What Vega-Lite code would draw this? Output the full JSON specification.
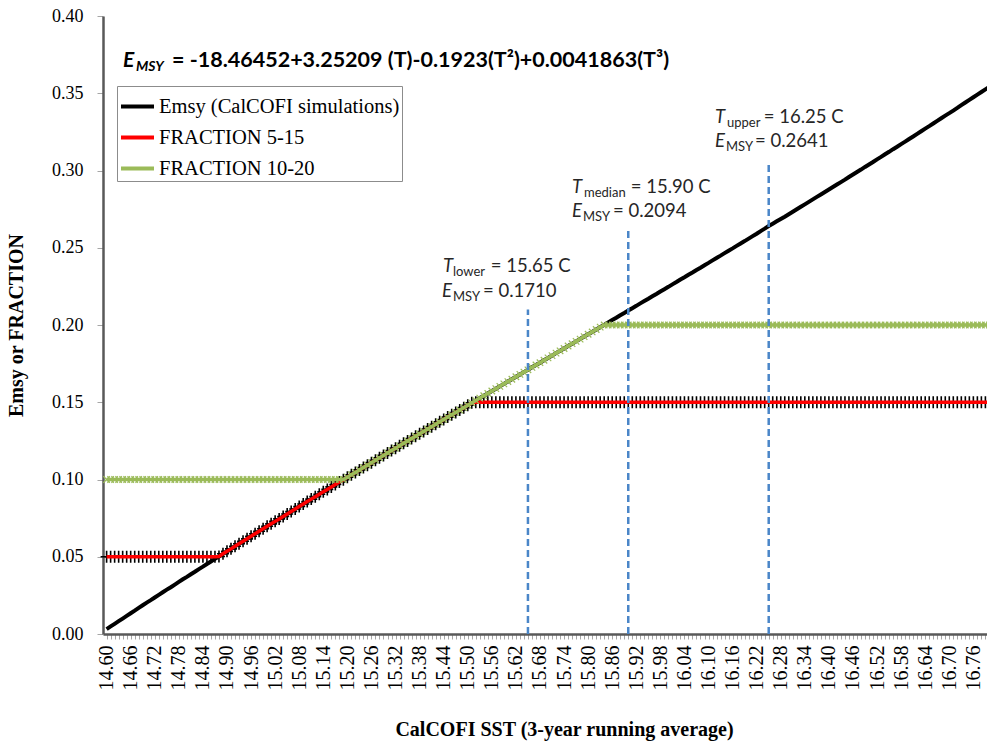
{
  "$schema": "https://vega.github.io/schema/vega-lite/v6.json",
  "width": 884,
  "height": 618,
  "autosize": {"type": "none"},
  "padding": {"left": 103, "top": 16, "right": 0, "bottom": 110},
  "background": "white",
  "config": {"view": {"stroke": null}, "axis": {"grid": false}},
  "datasets": {
    "series": [
      {"sst":14.60,"emsy":0.0032,"fraction_5_15":0.05,"fraction_10_20":0.1},
      {"sst":14.61,"emsy":0.0049,"fraction_5_15":0.05,"fraction_10_20":0.1},
      {"sst":14.62,"emsy":0.0066,"fraction_5_15":0.05,"fraction_10_20":0.1},
      {"sst":14.63,"emsy":0.0083,"fraction_5_15":0.05,"fraction_10_20":0.1},
      {"sst":14.64,"emsy":0.0100,"fraction_5_15":0.05,"fraction_10_20":0.1},
      {"sst":14.65,"emsy":0.0117,"fraction_5_15":0.05,"fraction_10_20":0.1},
      {"sst":14.66,"emsy":0.0134,"fraction_5_15":0.05,"fraction_10_20":0.1},
      {"sst":14.67,"emsy":0.0151,"fraction_5_15":0.05,"fraction_10_20":0.1},
      {"sst":14.68,"emsy":0.0169,"fraction_5_15":0.05,"fraction_10_20":0.1},
      {"sst":14.69,"emsy":0.0186,"fraction_5_15":0.05,"fraction_10_20":0.1},
      {"sst":14.70,"emsy":0.0203,"fraction_5_15":0.05,"fraction_10_20":0.1},
      {"sst":14.71,"emsy":0.0219,"fraction_5_15":0.05,"fraction_10_20":0.1},
      {"sst":14.72,"emsy":0.0236,"fraction_5_15":0.05,"fraction_10_20":0.1},
      {"sst":14.73,"emsy":0.0253,"fraction_5_15":0.05,"fraction_10_20":0.1},
      {"sst":14.74,"emsy":0.0270,"fraction_5_15":0.05,"fraction_10_20":0.1},
      {"sst":14.75,"emsy":0.0287,"fraction_5_15":0.05,"fraction_10_20":0.1},
      {"sst":14.76,"emsy":0.0303,"fraction_5_15":0.05,"fraction_10_20":0.1},
      {"sst":14.77,"emsy":0.0320,"fraction_5_15":0.05,"fraction_10_20":0.1},
      {"sst":14.78,"emsy":0.0337,"fraction_5_15":0.05,"fraction_10_20":0.1},
      {"sst":14.79,"emsy":0.0354,"fraction_5_15":0.05,"fraction_10_20":0.1},
      {"sst":14.80,"emsy":0.0370,"fraction_5_15":0.05,"fraction_10_20":0.1},
      {"sst":14.81,"emsy":0.0387,"fraction_5_15":0.05,"fraction_10_20":0.1},
      {"sst":14.82,"emsy":0.0403,"fraction_5_15":0.05,"fraction_10_20":0.1},
      {"sst":14.83,"emsy":0.0420,"fraction_5_15":0.05,"fraction_10_20":0.1},
      {"sst":14.84,"emsy":0.0436,"fraction_5_15":0.05,"fraction_10_20":0.1},
      {"sst":14.85,"emsy":0.0453,"fraction_5_15":0.05,"fraction_10_20":0.1},
      {"sst":14.86,"emsy":0.0469,"fraction_5_15":0.05,"fraction_10_20":0.1},
      {"sst":14.87,"emsy":0.0486,"fraction_5_15":0.05,"fraction_10_20":0.1},
      {"sst":14.88,"emsy":0.0502,"fraction_5_15":0.0502,"fraction_10_20":0.1},
      {"sst":14.89,"emsy":0.0519,"fraction_5_15":0.0519,"fraction_10_20":0.1},
      {"sst":14.90,"emsy":0.0535,"fraction_5_15":0.0535,"fraction_10_20":0.1},
      {"sst":14.91,"emsy":0.0551,"fraction_5_15":0.0551,"fraction_10_20":0.1},
      {"sst":14.92,"emsy":0.0568,"fraction_5_15":0.0568,"fraction_10_20":0.1},
      {"sst":14.93,"emsy":0.0584,"fraction_5_15":0.0584,"fraction_10_20":0.1},
      {"sst":14.94,"emsy":0.0600,"fraction_5_15":0.0600,"fraction_10_20":0.1},
      {"sst":14.95,"emsy":0.0616,"fraction_5_15":0.0616,"fraction_10_20":0.1},
      {"sst":14.96,"emsy":0.0633,"fraction_5_15":0.0633,"fraction_10_20":0.1},
      {"sst":14.97,"emsy":0.0649,"fraction_5_15":0.0649,"fraction_10_20":0.1},
      {"sst":14.98,"emsy":0.0665,"fraction_5_15":0.0665,"fraction_10_20":0.1},
      {"sst":14.99,"emsy":0.0681,"fraction_5_15":0.0681,"fraction_10_20":0.1},
      {"sst":15.00,"emsy":0.0697,"fraction_5_15":0.0697,"fraction_10_20":0.1},
      {"sst":15.01,"emsy":0.0713,"fraction_5_15":0.0713,"fraction_10_20":0.1},
      {"sst":15.02,"emsy":0.0729,"fraction_5_15":0.0729,"fraction_10_20":0.1},
      {"sst":15.03,"emsy":0.0745,"fraction_5_15":0.0745,"fraction_10_20":0.1},
      {"sst":15.04,"emsy":0.0761,"fraction_5_15":0.0761,"fraction_10_20":0.1},
      {"sst":15.05,"emsy":0.0777,"fraction_5_15":0.0777,"fraction_10_20":0.1},
      {"sst":15.06,"emsy":0.0793,"fraction_5_15":0.0793,"fraction_10_20":0.1},
      {"sst":15.07,"emsy":0.0809,"fraction_5_15":0.0809,"fraction_10_20":0.1},
      {"sst":15.08,"emsy":0.0825,"fraction_5_15":0.0825,"fraction_10_20":0.1},
      {"sst":15.09,"emsy":0.0841,"fraction_5_15":0.0841,"fraction_10_20":0.1},
      {"sst":15.10,"emsy":0.0857,"fraction_5_15":0.0857,"fraction_10_20":0.1},
      {"sst":15.11,"emsy":0.0873,"fraction_5_15":0.0873,"fraction_10_20":0.1},
      {"sst":15.12,"emsy":0.0889,"fraction_5_15":0.0889,"fraction_10_20":0.1},
      {"sst":15.13,"emsy":0.0905,"fraction_5_15":0.0905,"fraction_10_20":0.1},
      {"sst":15.14,"emsy":0.0920,"fraction_5_15":0.0920,"fraction_10_20":0.1},
      {"sst":15.15,"emsy":0.0936,"fraction_5_15":0.0936,"fraction_10_20":0.1},
      {"sst":15.16,"emsy":0.0952,"fraction_5_15":0.0952,"fraction_10_20":0.1},
      {"sst":15.17,"emsy":0.0968,"fraction_5_15":0.0968,"fraction_10_20":0.1},
      {"sst":15.18,"emsy":0.0984,"fraction_5_15":0.0984,"fraction_10_20":0.1},
      {"sst":15.19,"emsy":0.0999,"fraction_5_15":0.0999,"fraction_10_20":0.1},
      {"sst":15.20,"emsy":0.1015,"fraction_5_15":0.1015,"fraction_10_20":0.1015},
      {"sst":15.21,"emsy":0.1031,"fraction_5_15":0.1031,"fraction_10_20":0.1031},
      {"sst":15.22,"emsy":0.1046,"fraction_5_15":0.1046,"fraction_10_20":0.1046},
      {"sst":15.23,"emsy":0.1062,"fraction_5_15":0.1062,"fraction_10_20":0.1062},
      {"sst":15.24,"emsy":0.1078,"fraction_5_15":0.1078,"fraction_10_20":0.1078},
      {"sst":15.25,"emsy":0.1093,"fraction_5_15":0.1093,"fraction_10_20":0.1093},
      {"sst":15.26,"emsy":0.1109,"fraction_5_15":0.1109,"fraction_10_20":0.1109},
      {"sst":15.27,"emsy":0.1125,"fraction_5_15":0.1125,"fraction_10_20":0.1125},
      {"sst":15.28,"emsy":0.1140,"fraction_5_15":0.1140,"fraction_10_20":0.1140},
      {"sst":15.29,"emsy":0.1156,"fraction_5_15":0.1156,"fraction_10_20":0.1156},
      {"sst":15.30,"emsy":0.1172,"fraction_5_15":0.1172,"fraction_10_20":0.1172},
      {"sst":15.31,"emsy":0.1187,"fraction_5_15":0.1187,"fraction_10_20":0.1187},
      {"sst":15.32,"emsy":0.1203,"fraction_5_15":0.1203,"fraction_10_20":0.1203},
      {"sst":15.33,"emsy":0.1218,"fraction_5_15":0.1218,"fraction_10_20":0.1218},
      {"sst":15.34,"emsy":0.1234,"fraction_5_15":0.1234,"fraction_10_20":0.1234},
      {"sst":15.35,"emsy":0.1249,"fraction_5_15":0.1249,"fraction_10_20":0.1249},
      {"sst":15.36,"emsy":0.1265,"fraction_5_15":0.1265,"fraction_10_20":0.1265},
      {"sst":15.37,"emsy":0.1280,"fraction_5_15":0.1280,"fraction_10_20":0.1280},
      {"sst":15.38,"emsy":0.1296,"fraction_5_15":0.1296,"fraction_10_20":0.1296},
      {"sst":15.39,"emsy":0.1311,"fraction_5_15":0.1311,"fraction_10_20":0.1311},
      {"sst":15.40,"emsy":0.1327,"fraction_5_15":0.1327,"fraction_10_20":0.1327},
      {"sst":15.41,"emsy":0.1342,"fraction_5_15":0.1342,"fraction_10_20":0.1342},
      {"sst":15.42,"emsy":0.1357,"fraction_5_15":0.1357,"fraction_10_20":0.1357},
      {"sst":15.43,"emsy":0.1373,"fraction_5_15":0.1373,"fraction_10_20":0.1373},
      {"sst":15.44,"emsy":0.1388,"fraction_5_15":0.1388,"fraction_10_20":0.1388},
      {"sst":15.45,"emsy":0.1404,"fraction_5_15":0.1404,"fraction_10_20":0.1404},
      {"sst":15.46,"emsy":0.1419,"fraction_5_15":0.1419,"fraction_10_20":0.1419},
      {"sst":15.47,"emsy":0.1434,"fraction_5_15":0.1434,"fraction_10_20":0.1434},
      {"sst":15.48,"emsy":0.1450,"fraction_5_15":0.1450,"fraction_10_20":0.1450},
      {"sst":15.49,"emsy":0.1465,"fraction_5_15":0.1465,"fraction_10_20":0.1465},
      {"sst":15.50,"emsy":0.1481,"fraction_5_15":0.1481,"fraction_10_20":0.1481},
      {"sst":15.51,"emsy":0.1496,"fraction_5_15":0.1496,"fraction_10_20":0.1496},
      {"sst":15.52,"emsy":0.1511,"fraction_5_15":0.15,"fraction_10_20":0.1511},
      {"sst":15.53,"emsy":0.1527,"fraction_5_15":0.15,"fraction_10_20":0.1527},
      {"sst":15.54,"emsy":0.1542,"fraction_5_15":0.15,"fraction_10_20":0.1542},
      {"sst":15.55,"emsy":0.1557,"fraction_5_15":0.15,"fraction_10_20":0.1557},
      {"sst":15.56,"emsy":0.1573,"fraction_5_15":0.15,"fraction_10_20":0.1573},
      {"sst":15.57,"emsy":0.1588,"fraction_5_15":0.15,"fraction_10_20":0.1588},
      {"sst":15.58,"emsy":0.1603,"fraction_5_15":0.15,"fraction_10_20":0.1603},
      {"sst":15.59,"emsy":0.1619,"fraction_5_15":0.15,"fraction_10_20":0.1619},
      {"sst":15.60,"emsy":0.1634,"fraction_5_15":0.15,"fraction_10_20":0.1634},
      {"sst":15.61,"emsy":0.1649,"fraction_5_15":0.15,"fraction_10_20":0.1649},
      {"sst":15.62,"emsy":0.1665,"fraction_5_15":0.15,"fraction_10_20":0.1665},
      {"sst":15.63,"emsy":0.1680,"fraction_5_15":0.15,"fraction_10_20":0.1680},
      {"sst":15.64,"emsy":0.1695,"fraction_5_15":0.15,"fraction_10_20":0.1695},
      {"sst":15.65,"emsy":0.1710,"fraction_5_15":0.15,"fraction_10_20":0.1710},
      {"sst":15.66,"emsy":0.1726,"fraction_5_15":0.15,"fraction_10_20":0.1726},
      {"sst":15.67,"emsy":0.1741,"fraction_5_15":0.15,"fraction_10_20":0.1741},
      {"sst":15.68,"emsy":0.1756,"fraction_5_15":0.15,"fraction_10_20":0.1756},
      {"sst":15.69,"emsy":0.1772,"fraction_5_15":0.15,"fraction_10_20":0.1772},
      {"sst":15.70,"emsy":0.1787,"fraction_5_15":0.15,"fraction_10_20":0.1787},
      {"sst":15.71,"emsy":0.1802,"fraction_5_15":0.15,"fraction_10_20":0.1802},
      {"sst":15.72,"emsy":0.1818,"fraction_5_15":0.15,"fraction_10_20":0.1818},
      {"sst":15.73,"emsy":0.1833,"fraction_5_15":0.15,"fraction_10_20":0.1833},
      {"sst":15.74,"emsy":0.1848,"fraction_5_15":0.15,"fraction_10_20":0.1848},
      {"sst":15.75,"emsy":0.1864,"fraction_5_15":0.15,"fraction_10_20":0.1864},
      {"sst":15.76,"emsy":0.1879,"fraction_5_15":0.15,"fraction_10_20":0.1879},
      {"sst":15.77,"emsy":0.1894,"fraction_5_15":0.15,"fraction_10_20":0.1894},
      {"sst":15.78,"emsy":0.1909,"fraction_5_15":0.15,"fraction_10_20":0.1909},
      {"sst":15.79,"emsy":0.1925,"fraction_5_15":0.15,"fraction_10_20":0.1925},
      {"sst":15.80,"emsy":0.1940,"fraction_5_15":0.15,"fraction_10_20":0.1940},
      {"sst":15.81,"emsy":0.1955,"fraction_5_15":0.15,"fraction_10_20":0.1955},
      {"sst":15.82,"emsy":0.1971,"fraction_5_15":0.15,"fraction_10_20":0.1971},
      {"sst":15.83,"emsy":0.1986,"fraction_5_15":0.15,"fraction_10_20":0.1986},
      {"sst":15.84,"emsy":0.2001,"fraction_5_15":0.15,"fraction_10_20":0.2},
      {"sst":15.85,"emsy":0.2017,"fraction_5_15":0.15,"fraction_10_20":0.2},
      {"sst":15.86,"emsy":0.2032,"fraction_5_15":0.15,"fraction_10_20":0.2},
      {"sst":15.87,"emsy":0.2047,"fraction_5_15":0.15,"fraction_10_20":0.2},
      {"sst":15.88,"emsy":0.2063,"fraction_5_15":0.15,"fraction_10_20":0.2},
      {"sst":15.89,"emsy":0.2078,"fraction_5_15":0.15,"fraction_10_20":0.2},
      {"sst":15.90,"emsy":0.2094,"fraction_5_15":0.15,"fraction_10_20":0.2},
      {"sst":15.91,"emsy":0.2109,"fraction_5_15":0.15,"fraction_10_20":0.2},
      {"sst":15.92,"emsy":0.2124,"fraction_5_15":0.15,"fraction_10_20":0.2},
      {"sst":15.93,"emsy":0.2140,"fraction_5_15":0.15,"fraction_10_20":0.2},
      {"sst":15.94,"emsy":0.2155,"fraction_5_15":0.15,"fraction_10_20":0.2},
      {"sst":15.95,"emsy":0.2170,"fraction_5_15":0.15,"fraction_10_20":0.2},
      {"sst":15.96,"emsy":0.2186,"fraction_5_15":0.15,"fraction_10_20":0.2},
      {"sst":15.97,"emsy":0.2201,"fraction_5_15":0.15,"fraction_10_20":0.2},
      {"sst":15.98,"emsy":0.2217,"fraction_5_15":0.15,"fraction_10_20":0.2},
      {"sst":15.99,"emsy":0.2232,"fraction_5_15":0.15,"fraction_10_20":0.2},
      {"sst":16.00,"emsy":0.2247,"fraction_5_15":0.15,"fraction_10_20":0.2},
      {"sst":16.01,"emsy":0.2263,"fraction_5_15":0.15,"fraction_10_20":0.2},
      {"sst":16.02,"emsy":0.2278,"fraction_5_15":0.15,"fraction_10_20":0.2},
      {"sst":16.03,"emsy":0.2294,"fraction_5_15":0.15,"fraction_10_20":0.2},
      {"sst":16.04,"emsy":0.2309,"fraction_5_15":0.15,"fraction_10_20":0.2},
      {"sst":16.05,"emsy":0.2325,"fraction_5_15":0.15,"fraction_10_20":0.2},
      {"sst":16.06,"emsy":0.2340,"fraction_5_15":0.15,"fraction_10_20":0.2},
      {"sst":16.07,"emsy":0.2356,"fraction_5_15":0.15,"fraction_10_20":0.2},
      {"sst":16.08,"emsy":0.2371,"fraction_5_15":0.15,"fraction_10_20":0.2},
      {"sst":16.09,"emsy":0.2387,"fraction_5_15":0.15,"fraction_10_20":0.2},
      {"sst":16.10,"emsy":0.2402,"fraction_5_15":0.15,"fraction_10_20":0.2},
      {"sst":16.11,"emsy":0.2418,"fraction_5_15":0.15,"fraction_10_20":0.2},
      {"sst":16.12,"emsy":0.2434,"fraction_5_15":0.15,"fraction_10_20":0.2},
      {"sst":16.13,"emsy":0.2449,"fraction_5_15":0.15,"fraction_10_20":0.2},
      {"sst":16.14,"emsy":0.2465,"fraction_5_15":0.15,"fraction_10_20":0.2},
      {"sst":16.15,"emsy":0.2481,"fraction_5_15":0.15,"fraction_10_20":0.2},
      {"sst":16.16,"emsy":0.2496,"fraction_5_15":0.15,"fraction_10_20":0.2},
      {"sst":16.17,"emsy":0.2512,"fraction_5_15":0.15,"fraction_10_20":0.2},
      {"sst":16.18,"emsy":0.2528,"fraction_5_15":0.15,"fraction_10_20":0.2},
      {"sst":16.19,"emsy":0.2543,"fraction_5_15":0.15,"fraction_10_20":0.2},
      {"sst":16.20,"emsy":0.2559,"fraction_5_15":0.15,"fraction_10_20":0.2},
      {"sst":16.21,"emsy":0.2575,"fraction_5_15":0.15,"fraction_10_20":0.2},
      {"sst":16.22,"emsy":0.2591,"fraction_5_15":0.15,"fraction_10_20":0.2},
      {"sst":16.23,"emsy":0.2608,"fraction_5_15":0.15,"fraction_10_20":0.2},
      {"sst":16.24,"emsy":0.2624,"fraction_5_15":0.15,"fraction_10_20":0.2},
      {"sst":16.25,"emsy":0.2641,"fraction_5_15":0.15,"fraction_10_20":0.2},
      {"sst":16.26,"emsy":0.2656,"fraction_5_15":0.15,"fraction_10_20":0.2},
      {"sst":16.27,"emsy":0.2671,"fraction_5_15":0.15,"fraction_10_20":0.2},
      {"sst":16.28,"emsy":0.2686,"fraction_5_15":0.15,"fraction_10_20":0.2},
      {"sst":16.29,"emsy":0.2701,"fraction_5_15":0.15,"fraction_10_20":0.2},
      {"sst":16.30,"emsy":0.2717,"fraction_5_15":0.15,"fraction_10_20":0.2},
      {"sst":16.31,"emsy":0.2733,"fraction_5_15":0.15,"fraction_10_20":0.2},
      {"sst":16.32,"emsy":0.2749,"fraction_5_15":0.15,"fraction_10_20":0.2},
      {"sst":16.33,"emsy":0.2765,"fraction_5_15":0.15,"fraction_10_20":0.2},
      {"sst":16.34,"emsy":0.2781,"fraction_5_15":0.15,"fraction_10_20":0.2},
      {"sst":16.35,"emsy":0.2797,"fraction_5_15":0.15,"fraction_10_20":0.2},
      {"sst":16.36,"emsy":0.2813,"fraction_5_15":0.15,"fraction_10_20":0.2},
      {"sst":16.37,"emsy":0.2829,"fraction_5_15":0.15,"fraction_10_20":0.2},
      {"sst":16.38,"emsy":0.2845,"fraction_5_15":0.15,"fraction_10_20":0.2},
      {"sst":16.39,"emsy":0.2861,"fraction_5_15":0.15,"fraction_10_20":0.2},
      {"sst":16.40,"emsy":0.2877,"fraction_5_15":0.15,"fraction_10_20":0.2},
      {"sst":16.41,"emsy":0.2893,"fraction_5_15":0.15,"fraction_10_20":0.2},
      {"sst":16.42,"emsy":0.2909,"fraction_5_15":0.15,"fraction_10_20":0.2},
      {"sst":16.43,"emsy":0.2925,"fraction_5_15":0.15,"fraction_10_20":0.2},
      {"sst":16.44,"emsy":0.2941,"fraction_5_15":0.15,"fraction_10_20":0.2},
      {"sst":16.45,"emsy":0.2958,"fraction_5_15":0.15,"fraction_10_20":0.2},
      {"sst":16.46,"emsy":0.2974,"fraction_5_15":0.15,"fraction_10_20":0.2},
      {"sst":16.47,"emsy":0.2990,"fraction_5_15":0.15,"fraction_10_20":0.2},
      {"sst":16.48,"emsy":0.3006,"fraction_5_15":0.15,"fraction_10_20":0.2},
      {"sst":16.49,"emsy":0.3023,"fraction_5_15":0.15,"fraction_10_20":0.2},
      {"sst":16.50,"emsy":0.3039,"fraction_5_15":0.15,"fraction_10_20":0.2},
      {"sst":16.51,"emsy":0.3055,"fraction_5_15":0.15,"fraction_10_20":0.2},
      {"sst":16.52,"emsy":0.3072,"fraction_5_15":0.15,"fraction_10_20":0.2},
      {"sst":16.53,"emsy":0.3088,"fraction_5_15":0.15,"fraction_10_20":0.2},
      {"sst":16.54,"emsy":0.3105,"fraction_5_15":0.15,"fraction_10_20":0.2},
      {"sst":16.55,"emsy":0.3121,"fraction_5_15":0.15,"fraction_10_20":0.2},
      {"sst":16.56,"emsy":0.3138,"fraction_5_15":0.15,"fraction_10_20":0.2},
      {"sst":16.57,"emsy":0.3154,"fraction_5_15":0.15,"fraction_10_20":0.2},
      {"sst":16.58,"emsy":0.3171,"fraction_5_15":0.15,"fraction_10_20":0.2},
      {"sst":16.59,"emsy":0.3187,"fraction_5_15":0.15,"fraction_10_20":0.2},
      {"sst":16.60,"emsy":0.3204,"fraction_5_15":0.15,"fraction_10_20":0.2},
      {"sst":16.61,"emsy":0.3220,"fraction_5_15":0.15,"fraction_10_20":0.2},
      {"sst":16.62,"emsy":0.3237,"fraction_5_15":0.15,"fraction_10_20":0.2},
      {"sst":16.63,"emsy":0.3254,"fraction_5_15":0.15,"fraction_10_20":0.2},
      {"sst":16.64,"emsy":0.3271,"fraction_5_15":0.15,"fraction_10_20":0.2},
      {"sst":16.65,"emsy":0.3287,"fraction_5_15":0.15,"fraction_10_20":0.2},
      {"sst":16.66,"emsy":0.3304,"fraction_5_15":0.15,"fraction_10_20":0.2},
      {"sst":16.67,"emsy":0.3321,"fraction_5_15":0.15,"fraction_10_20":0.2},
      {"sst":16.68,"emsy":0.3338,"fraction_5_15":0.15,"fraction_10_20":0.2},
      {"sst":16.69,"emsy":0.3355,"fraction_5_15":0.15,"fraction_10_20":0.2},
      {"sst":16.70,"emsy":0.3371,"fraction_5_15":0.15,"fraction_10_20":0.2},
      {"sst":16.71,"emsy":0.3388,"fraction_5_15":0.15,"fraction_10_20":0.2},
      {"sst":16.72,"emsy":0.3405,"fraction_5_15":0.15,"fraction_10_20":0.2},
      {"sst":16.73,"emsy":0.3423,"fraction_5_15":0.15,"fraction_10_20":0.2},
      {"sst":16.74,"emsy":0.3440,"fraction_5_15":0.15,"fraction_10_20":0.2},
      {"sst":16.75,"emsy":0.3457,"fraction_5_15":0.15,"fraction_10_20":0.2},
      {"sst":16.76,"emsy":0.3474,"fraction_5_15":0.15,"fraction_10_20":0.2},
      {"sst":16.77,"emsy":0.3491,"fraction_5_15":0.15,"fraction_10_20":0.2},
      {"sst":16.78,"emsy":0.3508,"fraction_5_15":0.15,"fraction_10_20":0.2},
      {"sst":16.79,"emsy":0.3525,"fraction_5_15":0.15,"fraction_10_20":0.2},
      {"sst":16.80,"emsy":0.3542,"fraction_5_15":0.15,"fraction_10_20":0.2}
    ],
    "thresholds": [
      {"sst": 15.65, "bottom": 0, "top": 0.21},
      {"sst": 15.90, "bottom": 0, "top": 0.262},
      {"sst": 16.25, "bottom": 0, "top": 0.305}
    ]
  },
  "layer": [
    {
      "data": {"name": "series"},
      "mark": {"type": "line", "strokeWidth": 4, "strokeCap": "butt"},
      "encoding": {
        "x": {
          "field": "sst", "type": "quantitative",
          "scale": {"domain": [14.591, 16.794], "nice": false, "zero": false},
          "axis": {
            "tickCount": 220,
            "labelExpr": "(round(datum.value * 100) - 1460) % 6 === 0 ? format(datum.value, '.2f') : ''",
            "labelAngle": 270,
            "labelFont": "Liberation Serif", "labelFontSize": 20, "labelColor": "#000000",
            "labelPadding": 6, "labelOverlap": false, "labelFlush": false, "labelBound": false,
            "tickSize": 5, "tickColor": "#a6a6a6", "tickWidth": 1,
            "domainColor": "#595959", "domainWidth": 2.5,
            "title": "CalCOFI SST (3-year running average)",
            "titleFont": "Liberation Serif", "titleFontSize": 20, "titleFontWeight": "bold",
            "titleColor": "#000000", "titlePadding": 29, "titleX": 461
          }
        },
        "y": {
          "field": "emsy", "type": "quantitative",
          "scale": {"domain": [0, 0.4], "nice": false, "zero": true},
          "axis": {
            "values": [0, 0.05, 0.1, 0.15, 0.2, 0.25, 0.3, 0.35, 0.4],
            "format": ".2f",
            "labelFont": "Liberation Serif", "labelFontSize": 18, "labelColor": "#000000",
            "labelPadding": 14, "labelFlush": false,
            "tickSize": 6, "tickColor": "#a6a6a6", "tickWidth": 1,
            "domainColor": "#595959", "domainWidth": 2.5,
            "title": "Emsy or FRACTION",
            "titleFont": "Liberation Serif", "titleFontSize": 20, "titleFontWeight": "bold",
            "titleColor": "#000000", "titlePadding": 25
          }
        },
        "color": {
          "datum": "Emsy (CalCOFI simulations)", "type": "nominal",
          "scale": {
            "domain": ["Emsy (CalCOFI simulations)", "FRACTION 5-15", "FRACTION 10-20"],
            "range": ["#000000", "#ff0000", "#9bbb59"]
          },
          "legend": {
            "title": null, "orient": "none", "legendX": 14, "legendY": 70,
            "symbolType": "stroke", "symbolSize": 1089, "symbolStrokeWidth": 4, "symbolOpacity": 1,
            "labelFont": "Liberation Serif", "labelFontSize": 20.5, "labelColor": "#000000",
            "labelLimit": 400, "labelOffset": 3, "rowPadding": 2, "padding": 2,
            "strokeColor": "#8c8c8c", "fillColor": "#ffffff"
          }
        }
      }
    },
    {
      "data": {"name": "series"},
      "mark": {"type": "point", "shape": "M-1,0H1M0,-1V1", "filled": false, "color": "#000000", "strokeWidth": 1.6, "size": 144, "opacity": 1},
      "encoding": {
        "x": {"field": "sst", "type": "quantitative"},
        "y": {"field": "fraction_5_15", "type": "quantitative"}
      }
    },
    {
      "data": {"name": "series"},
      "mark": {"type": "line", "strokeWidth": 3.5},
      "encoding": {
        "x": {"field": "sst", "type": "quantitative"},
        "y": {"field": "fraction_5_15", "type": "quantitative"},
        "color": {"datum": "FRACTION 5-15", "type": "nominal"}
      }
    },
    {
      "data": {"name": "series"},
      "mark": {"type": "line", "strokeWidth": 3.5},
      "encoding": {
        "x": {"field": "sst", "type": "quantitative"},
        "y": {"field": "fraction_10_20", "type": "quantitative"},
        "color": {"datum": "FRACTION 10-20", "type": "nominal"}
      }
    },
    {
      "data": {"name": "series"},
      "mark": {"type": "point", "shape": "M-1,-1L1,1M-1,1L1,-1", "filled": false, "color": "#9bbb59", "strokeWidth": 1.2, "size": 42, "opacity": 1},
      "encoding": {
        "x": {"field": "sst", "type": "quantitative"},
        "y": {"field": "fraction_10_20", "type": "quantitative"}
      }
    },
    {
      "data": {"name": "thresholds"},
      "mark": {"type": "rule", "color": "#4a86c8", "strokeWidth": 2.5, "strokeDash": [7, 4]},
      "encoding": {
        "x": {"field": "sst", "type": "quantitative"},
        "y": {"field": "bottom", "type": "quantitative"},
        "y2": {"field": "top"}
      }
    },
    {
      "data": {"values": [{"label": "E", "sst": 14.6408, "val": 0.367}]},
      "mark": {"type": "text", "align": "left", "baseline": "alphabetic", "font": "Lato", "fontSize": 21, "fontWeight": "bold", "fontStyle": "italic", "color": "#000000"},
      "encoding": {
        "x": {"field": "sst", "type": "quantitative"},
        "y": {"field": "val", "type": "quantitative"},
        "text": {"field": "label", "type": "nominal"}
      }
    },
    {
      "data": {"values": [{"label": "MSY", "sst": 14.6732, "val": 0.3642}]},
      "mark": {"type": "text", "align": "left", "baseline": "alphabetic", "font": "Lato", "fontSize": 14, "fontWeight": "bold", "fontStyle": "italic", "color": "#000000"},
      "encoding": {
        "x": {"field": "sst", "type": "quantitative"},
        "y": {"field": "val", "type": "quantitative"},
        "text": {"field": "label", "type": "nominal"}
      }
    },
    {
      "data": {"values": [{"label": "= -18.46452+3.25209 (T)-0.1923(T²)+0.0041863(T³)", "sst": 14.763, "val": 0.367}]},
      "mark": {"type": "text", "align": "left", "baseline": "alphabetic", "font": "Lato", "fontSize": 21.5, "fontWeight": "bold", "color": "#000000"},
      "encoding": {
        "x": {"field": "sst", "type": "quantitative"},
        "y": {"field": "val", "type": "quantitative"},
        "text": {"field": "label", "type": "nominal"}
      }
    },
    {
      "data": {"values": [
        {"label": "T", "sst": 15.4383, "val": 0.2343},
        {"label": "E", "sst": 15.4358, "val": 0.2181},
        {"label": "T", "sst": 15.7598, "val": 0.2854},
        {"label": "E", "sst": 15.7598, "val": 0.2699},
        {"label": "T", "sst": 16.1162, "val": 0.3307},
        {"label": "E", "sst": 16.1162, "val": 0.3152}
      ]},
      "mark": {"type": "text", "align": "left", "baseline": "alphabetic", "font": "Lato", "fontSize": 18.5, "fontStyle": "italic", "color": "#262626"},
      "encoding": {
        "x": {"field": "sst", "type": "quantitative"},
        "y": {"field": "val", "type": "quantitative"},
        "text": {"field": "label", "type": "nominal"}
      }
    },
    {
      "data": {"values": [
        {"label": "lower", "sst": 15.4633, "val": 0.2317},
        {"label": "MSY", "sst": 15.4632, "val": 0.2155},
        {"label": "median", "sst": 15.7897, "val": 0.2829},
        {"label": "MSY", "sst": 15.7872, "val": 0.2673},
        {"label": "upper", "sst": 16.1461, "val": 0.3282},
        {"label": "MSY", "sst": 16.1436, "val": 0.3126}
      ]},
      "mark": {"type": "text", "align": "left", "baseline": "alphabetic", "font": "Lato", "fontSize": 13, "color": "#262626"},
      "encoding": {
        "x": {"field": "sst", "type": "quantitative"},
        "y": {"field": "val", "type": "quantitative"},
        "text": {"field": "label", "type": "nominal"}
      }
    },
    {
      "data": {"values": [
        {"label": "= 15.65 C", "sst": 15.5574, "val": 0.2343},
        {"label": "= 0.1710", "sst": 15.538, "val": 0.2181},
        {"label": "= 15.90 C", "sst": 15.9063, "val": 0.2854},
        {"label": "= 0.2094", "sst": 15.862, "val": 0.2699},
        {"label": "= 16.25 C", "sst": 16.2378, "val": 0.3307},
        {"label": "= 0.2641", "sst": 16.2159, "val": 0.3152}
      ]},
      "mark": {"type": "text", "align": "left", "baseline": "alphabetic", "font": "Lato", "fontSize": 18.5, "color": "#262626"},
      "encoding": {
        "x": {"field": "sst", "type": "quantitative"},
        "y": {"field": "val", "type": "quantitative"},
        "text": {"field": "label", "type": "nominal"}
      }
    }
  ]
}
